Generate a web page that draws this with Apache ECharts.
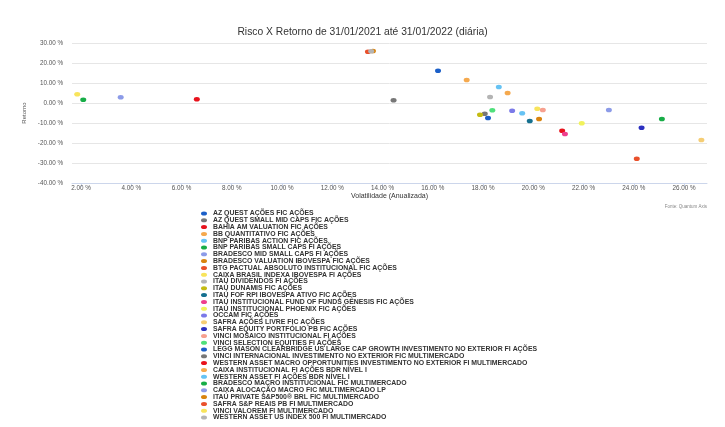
<!DOCTYPE html>
<html>
<head>
<meta charset="utf-8">
<script src="https://cdn.jsdelivr.net/npm/echarts@6/dist/echarts.min.js"></script>
<style>
  html, body { margin: 0; padding: 0; background: #fff; }
  #chart { width: 725px; height: 427px; }
</style>
</head>
<body>
<div id="chart"></div>
<script>
// fundos (ordem da legenda)
var fundNames = [
  'AZ QUEST AÇÕES FIC AÇÕES',
  'AZ QUEST SMALL MID CAPS FIC AÇÕES',
  'BAHIA AM VALUATION FIC AÇÕES',
  'BB QUANTITATIVO FIC AÇÕES',
  'BNP PARIBAS ACTION FIC AÇÕES',
  'BNP PARIBAS SMALL CAPS FI AÇÕES',
  'BRADESCO MID SMALL CAPS FI AÇÕES',
  'BRADESCO VALUATION IBOVESPA FIC AÇÕES',
  'BTG PACTUAL ABSOLUTO INSTITUCIONAL FIC AÇÕES',
  'CAIXA BRASIL INDEXA IBOVESPA FI AÇÕES',
  'ITAÚ DIVIDENDOS FI AÇÕES',
  'ITAÚ DUNAMIS FIC AÇÕES',
  'ITAÚ FOF RPI IBOVESPA ATIVO FIC AÇÕES',
  'ITAÚ INSTITUCIONAL FUND OF FUNDS GÊNESIS FIC AÇÕES',
  'ITAÚ INSTITUCIONAL PHOENIX FIC AÇÕES',
  'OCCAM FIC AÇÕES',
  'SAFRA AÇÕES LIVRE FIC AÇÕES',
  'SAFRA EQUITY PORTFÓLIO PB FIC AÇÕES',
  'VINCI MOSAICO INSTITUCIONAL FI AÇÕES',
  'VINCI SELECTION EQUITIES FI AÇÕES',
  'LEGG MASON CLEARBRIDGE US LARGE CAP GROWTH INVESTIMENTO NO EXTERIOR FI AÇÕES',
  'VINCI INTERNACIONAL INVESTIMENTO NO EXTERIOR FIC MULTIMERCADO',
  'WESTERN ASSET MACRO OPPORTUNITIES INVESTIMENTO NO EXTERIOR FI MULTIMERCADO',
  'CAIXA INSTITUCIONAL FI AÇÕES BDR NÍVEL I',
  'WESTERN ASSET FI AÇÕES BDR NÍVEL I',
  'BRADESCO MACRO INSTITUCIONAL FIC MULTIMERCADO',
  'CAIXA ALOCAÇÃO MACRO FIC MULTIMERCADO LP',
  'ITAÚ PRIVATE S&P500® BRL FIC MULTIMERCADO',
  'SAFRA S&P REAIS PB FI MULTIMERCADO',
  'VINCI VALOREM FI MULTIMERCADO',
  'WESTERN ASSET US INDEX 500 FI MULTIMERCADO'
];

// volatilidade anualizada (%)
var volatility = [
  18.20, 18.07, 21.15, 18.98, 19.56, 25.12, 23.01, 20.23, 24.12, 20.16,
  18.28, 17.88, 19.86, 21.26, 21.93, 19.16, 26.69, 24.31, 20.38, 18.37,
  16.21, 14.44, 6.61, 17.35, 18.63, 2.09, 3.58, 13.62, 13.42, 1.85,
  13.55
];

// retorno no período (%)
var returns = [
  -7.5, -5.35, -13.85, 5.0, -5.15, -8.0, -3.5, -8.0, -27.85, -2.85,
  3.0, -5.85, -9.0, -15.5, -10.15, -3.85, -18.5, -12.35, -3.5, -3.65,
  16.15, 1.35, 1.85, 11.5, 8.0, 1.65, 2.85, 26.0, 25.65, 4.35,
  25.85
];

var xTicks = [2, 4, 6, 8, 10, 12, 14, 16, 18, 20, 22, 24, 26];

var palette = [
  '#1b5fc8', '#777777', '#e8121c', '#f5a94e', '#66c3f4',
  '#17ad47', '#8c9be8', '#d9840f', '#e9502b', '#f8e45c',
  '#b4b4b4', '#c4bb12', '#15708f', '#ee3f8d', '#f1f25c',
  '#7b7ae8', '#f5cd74', '#2c30c0', '#f7a08f', '#4fe07b'
];

var ellipse = 'path://M0,4A6,4 0 1,0 12,4A6,4 0 1,0 0,4Z';

var series = fundNames.map(function (name, i) {
  return {
    name: name,
    type: 'scatter',
    symbol: ellipse,
    symbolSize: [6, 4.6],
    symbolKeepAspect: false,
    itemStyle: { color: palette[i % palette.length], opacity: 1 },
    data: [[volatility[i], returns[i]]]
  };
});

var chart = echarts.init(document.getElementById('chart'));
var fmt = function (v) { return v.toFixed(2) + ' %'; };

chart.setOption({
  animation: false,
  textStyle: { fontFamily: 'Liberation Sans, Arial, sans-serif' },
  title: {
    text: 'Risco X Retorno de 31/01/2021 até 31/01/2022 (diária)',
    left: 'center',
    top: 22,
    textStyle: { fontSize: 10.3, fontWeight: 'normal', color: '#333' }
  },
  grid: { left: 72, right: 18, top: 43, bottom: 244 },
  xAxis: {
    type: 'value',
    min: 1.642,
    max: 26.915,
    name: 'Volatilidade (Anualizada)',
    nameLocation: 'middle',
    nameGap: 10,
    nameTextStyle: { fontSize: 7, color: '#333' },
    axisLine: { show: true, onZero: false, lineStyle: { color: '#ccd6eb' } },
    axisTick: { show: true, length: 4, customValues: xTicks, lineStyle: { color: '#ccd6eb' } },
    axisLabel: { customValues: xTicks, formatter: fmt, fontSize: 6.3, color: '#555', margin: 2 },
    splitLine: { show: false }
  },
  yAxis: {
    type: 'value',
    min: -40,
    max: 30,
    interval: 10,
    name: 'Retorno',
    nameLocation: 'middle',
    nameRotate: 90,
    nameGap: 43.5,
    nameTextStyle: { fontSize: 6, color: '#555' },
    axisLine: { show: false },
    axisTick: { show: false },
    axisLabel: { formatter: fmt, fontSize: 6.3, color: '#555', margin: 9 },
    splitLine: { lineStyle: { color: '#e6e6e6', width: 1 } }
  },
  legend: {
    orient: 'vertical',
    left: 201,
    top: 210,
    height: 216,
    padding: 0,
    icon: ellipse,
    itemWidth: 6,
    itemHeight: 4,
    itemGap: -0.2,
    textStyle: { fontSize: 6.9, fontWeight: 'bold', color: '#333', padding: [0, 0, 0, 1] },
    data: fundNames
  },
  graphic: [{
    type: 'text',
    right: 18,
    top: 204,
    style: { text: 'Fonte: Quantum Axis', fontSize: 4.5, fill: '#888', fontFamily: 'Liberation Sans, Arial, sans-serif' }
  }],
  series: series
});
</script>
</body>
</html>
